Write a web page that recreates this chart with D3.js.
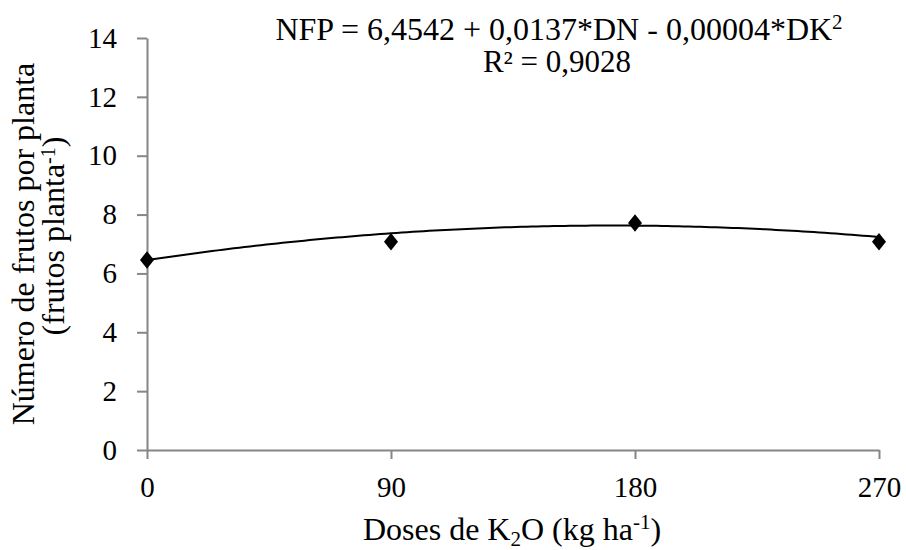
<!DOCTYPE html>
<html>
<head>
<meta charset="utf-8">
<script src="https://cdn.jsdelivr.net/npm/d3@7"></script>
<style>
  body { margin: 0; background: #fff; }
  svg { font-family: "Liberation Serif", "Times New Roman", serif; }
</style>
</head>
<body>
<div id="chart"></div>
<script>
// doses of K2O (kg/ha) and observed fruits per plant
var doses = [0, 90, 180, 270];
var frutos = [6.46, 7.08, 7.71, 7.08];
// fitted quadratic: a + b*x + c*x^2
var coef = [6.4542, 0.0137, -0.00004];
var xTicks = [0, 90, 180, 270];
var yTicks = [0, 2, 4, 6, 8, 10, 12, 14];

var config = {
  "width": 906,
  "height": 550
};

var margin = {top: 38, right: 27, bottom: 100, left: 147};

var svg = d3.select("#chart")
  .append("svg")
  .attr("width", config.width)
  .attr("height", config.height);

var x = d3.scaleLinear()
  .domain([0, 270])
  .range([margin.left, config.width - margin.right]);

var y = d3.scaleLinear()
  .domain([0, 14])
  .range([config.height - margin.bottom, margin.top]);

var axisColor = "#868686";

// y axis
var yAxis = svg.append("g")
  .attr("transform", "translate(" + margin.left + ",0)")
  .call(d3.axisLeft(y).tickValues(yTicks).tickSize(10).tickPadding(20).tickSizeOuter(0));

// x axis
var xAxis = svg.append("g")
  .attr("transform", "translate(0," + y(0) + ")")
  .call(d3.axisBottom(x).tickValues(xTicks).tickSize(9).tickPadding(17).tickSizeOuter(0));

[xAxis, yAxis].forEach(function(ax) {
  ax.select(".domain").attr("stroke", axisColor).attr("stroke-width", 2);
  ax.selectAll(".tick line").attr("stroke", axisColor).attr("stroke-width", 2);
  ax.selectAll(".tick text")
    .attr("fill", "#000")
    .style("font-size", "29px")
    .style("font-family", "Liberation Serif, serif");
});
xAxis.selectAll(".tick text").attr("dy", "0.71em");

// regression curve
var curvePts = d3.range(0, 270.5, 2).map(function(d) {
  return [d, coef[0] + coef[1] * d + coef[2] * d * d];
});

svg.append("path")
  .datum(curvePts)
  .attr("fill", "none")
  .attr("stroke", "#000")
  .attr("stroke-width", 2)
  .attr("d", d3.line()
    .x(function(d) { return x(d[0]); })
    .y(function(d) { return y(d[1]); }));

// observed points (diamonds)
svg.selectAll(".pt")
  .data(doses)
  .enter()
  .append("path")
  .attr("class", "pt")
  .attr("d", d3.symbol().type(d3.symbolDiamond2).size(125))
  .attr("transform", function(d, i) {
    return "translate(" + x(d) + "," + y(frutos[i]) + ") scale(1,1.25)";
  })
  .attr("fill", "#000");

// equation
var eq = svg.append("text")
  .attr("x", 559)
  .attr("y", 40)
  .attr("text-anchor", "middle")
  .style("font-size", "32px");
eq.append("tspan").text("NFP = 6,4542 + 0,0137*DN - 0,00004*DK");
eq.append("tspan").text("2").attr("dy", -11).style("font-size", "21px");

svg.append("text")
  .attr("x", 557)
  .attr("y", 72)
  .attr("text-anchor", "middle")
  .style("font-size", "31px")
  .text("R² = 0,9028");

// x axis title
var xt = svg.append("text")
  .attr("x", 512)
  .attr("y", 540)
  .attr("text-anchor", "middle")
  .style("font-size", "32px");
xt.append("tspan").text("Doses de K");
xt.append("tspan").text("2").attr("dy", 6).style("font-size", "21px");
xt.append("tspan").text("O (kg ha").attr("dy", -6);
xt.append("tspan").text("-1").attr("dy", -11).style("font-size", "21px");
xt.append("tspan").text(")").attr("dy", 11);

// y axis title, two lines
svg.append("text")
  .attr("transform", "translate(34,244) rotate(-90)")
  .attr("text-anchor", "middle")
  .style("font-size", "32px")
  .text("Número de frutos por planta");

var yt2 = svg.append("text")
  .attr("transform", "translate(64,236) rotate(-90)")
  .attr("text-anchor", "middle")
  .style("font-size", "32px");
yt2.append("tspan").text("(frutos planta");
yt2.append("tspan").text("-1").attr("dy", -9).style("font-size", "20px");
yt2.append("tspan").text(")").attr("dy", 9);
</script>
</body>
</html>
